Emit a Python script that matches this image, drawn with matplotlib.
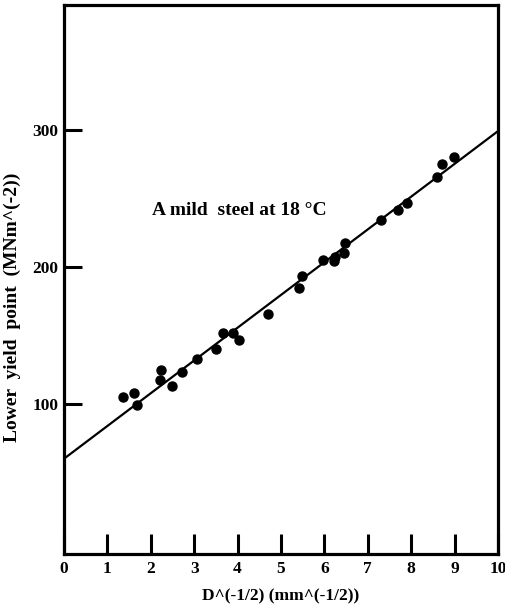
import matplotlib
matplotlib.use("Agg")
import matplotlib.pyplot as plt

# Data
grain_x = [1.37, 1.62, 1.69, 2.24, 2.21, 2.48, 2.71, 3.07, 3.50, 3.67, 3.89, 4.04,
           4.71, 5.42, 5.49, 5.96, 6.22, 6.24, 6.46, 6.48, 7.30, 7.70, 7.91, 8.60,
           8.70, 8.99]
yield_y = [104.9, 107.8, 99.3, 124.8, 117.5, 113.1, 123.6, 132.8, 139.9, 152.0,
           152.0, 146.7, 165.5, 184.5, 193.4, 205.1, 203.9, 207.5, 210.4, 217.3,
           234.3, 241.6, 246.5, 265.5, 275.2, 279.8]
fit_x = [0, 10]
fit_y = [60, 299]
x_ticks = list(range(0, 11))
y_ticks = [100, 200, 300]

serif = ["Liberation Serif", "DejaVu Serif"]

fig = plt.figure(figsize=(5.05, 6.10), dpi=100)
ax = fig.add_axes([64/505, 56/610, 434/505, 549/610])

ax.plot(fit_x, fit_y, color="black", lw=1.6, solid_capstyle="butt")
ax.plot(grain_x, yield_y, "o", color="black", ms=6.5, zorder=3)

ax.set_xlim(0, 10)
ax.set_ylim(-9.5, 391)

for s in ax.spines.values():
    s.set_linewidth(2.3)

ax.set_xticks(x_ticks)
ax.set_xticklabels([str(v) for v in x_ticks])
ax.set_yticks(y_ticks)
ax.set_yticklabels([str(v) for v in y_ticks])
ax.tick_params(axis="x", direction="in", length=14.5, width=2.2, pad=5)
ax.tick_params(axis="y", direction="in", length=13, width=2.2, pad=4)
for lab in ax.get_xticklabels() + ax.get_yticklabels():
    lab.set_fontfamily(serif)
    lab.set_fontweight("bold")
    lab.set_fontsize(12.5)

ax.set_xlabel("D^(-1/2) (mm^(-1/2))", family=serif, fontweight="bold",
              fontsize=12.5, labelpad=8)
ax.set_ylabel("Lower  yield  point  (MNm^(-2))", family=serif, fontweight="bold",
              fontsize=14)
ax.yaxis.set_label_coords(-0.100, 0.45)

ax.text(2.03, 241, "A mild  steel at 18 \u00b0C", family=serif, fontweight="bold",
        fontsize=14, ha="left", va="center")

fig.savefig("out.png", dpi=100)
